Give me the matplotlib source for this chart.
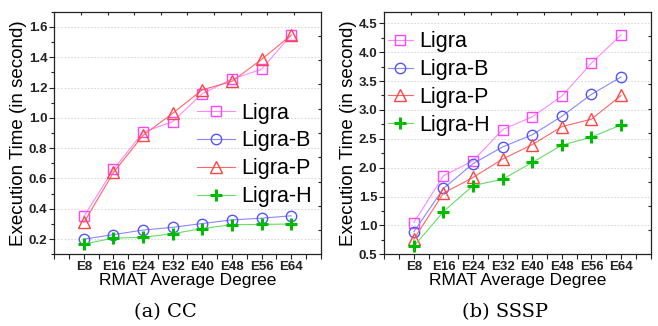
import matplotlib.pyplot as plt
import numpy as np

plt.rcParams['font.family'] = ['Liberation Sans', 'DejaVu Sans']

degrees = ['E8', 'E16', 'E24', 'E32', 'E40', 'E48', 'E56', 'E64']
series = ['Ligra', 'Ligra-B', 'Ligra-P', 'Ligra-H']

# CC run times (s)
cc_ligra = [0.35, 0.66, 0.905, 0.975, 1.16, 1.255, 1.32, 1.545]
cc_ligra_b = [0.20, 0.23, 0.26, 0.278, 0.303, 0.327, 0.338, 0.354]
cc_ligra_p = [0.31, 0.64, 0.885, 1.03, 1.185, 1.24, 1.385, 1.545]
cc_ligra_h = [0.168, 0.207, 0.212, 0.236, 0.27, 0.295, 0.297, 0.30]

# SSSP run times (s)
sssp_ligra = [1.05, 1.86, 2.12, 2.66, 2.88, 3.24, 3.81, 4.30]
sssp_ligra_b = [0.89, 1.64, 2.07, 2.36, 2.57, 2.89, 3.27, 3.57]
sssp_ligra_p = [0.76, 1.56, 1.83, 2.15, 2.40, 2.71, 2.84, 3.25]
sssp_ligra_h = [0.64, 1.24, 1.69, 1.80, 2.09, 2.39, 2.53, 2.74]

styles = [
    dict(marker='s', color='#ff88ff', mec='#ff44ff', mfc='none', ms=7, mew=1.0),
    dict(marker='o', color='#8888ff', mec='#5555ff', mfc='none', ms=7.5, mew=1.0),
    dict(marker='^', color='#ff6666', mec='#ff4444', mfc='none', ms=8.5, mew=1.0),
    dict(marker='+', color='#66dd66', mec='#00bb00', mfc='#00bb00', ms=9, mew=2.2),
]

fig = plt.figure(figsize=(6.58, 3.26), dpi=100)


def panel(rect, data, ylim, yticks, yminor, caption, cap_x, leg_anchor, hlen):
    ax = fig.add_axes(rect)
    x = np.arange(len(degrees))
    for name, vals, st in zip(series, data, styles):
        ax.plot(x, vals, '-', lw=0.8, label=name, zorder=4,
                marker=st['marker'], color=st['color'], mec=st['mec'],
                mfc=st['mfc'], ms=st['ms'], mew=st['mew'])
    ax.set_xlim(-1, 8)
    ax.set_ylim(*ylim)
    ax.set_xticks(x)
    ax.set_xticklabels(degrees)
    ax.set_xticks(np.arange(-1, 8.01, 0.5), minor=True)
    ax.set_yticks(yticks)
    ax.set_yticks(yminor, minor=True)
    ax.yaxis.grid(True, ls=(0, (2, 2)), color='#d0d0d0', lw=0.6)
    ax.set_axisbelow(True)
    for lab in ax.get_xticklabels() + ax.get_yticklabels():
        lab.set_fontweight('bold')
        lab.set_fontsize(9.5)
    ax.tick_params(which='major', direction='out', length=3.5, width=0.8, pad=1.5,
                   colors='#222222')
    ax.tick_params(which='minor', direction='out', length=2.2, width=0.8, colors='#222222')
    ax.tick_params(axis='x', which='minor', length=3.5)
    for s in ax.spines.values():
        s.set_linewidth(0.9)
        s.set_color('#222222')
    ax.set_xlabel('RMAT Average Degree', fontsize=12.5, labelpad=0)
    ax.set_ylabel('Execution Time (in second)', fontsize=13.5, labelpad=1)
    leg = ax.legend(loc='center left', bbox_to_anchor=leg_anchor, frameon=False,
                    fontsize=15.5, handlelength=hlen, handletextpad=0.3,
                    labelspacing=0.32, borderpad=0, borderaxespad=0, numpoints=1)
    leg.set_zorder(6)

    # ticks on the top and right frame
    over = fig.add_axes(rect, frameon=False)
    over.set_xlim(0, 1)
    over.set_ylim(0, 1)
    over.set_xticks(np.linspace(0.1, 0.9, 9))
    over.set_yticks(np.linspace(0.1, 0.9, 9))
    over.tick_params(direction='in', length=2.2, width=0.8, colors='#222222',
                     top=True, right=True, bottom=False, left=False,
                     labeltop=False, labelright=False, labelbottom=False, labelleft=False)
    over.patch.set_visible(False)

    fig.text(cap_x, 0.043, caption, ha='center', va='center', fontsize=14,
             family='DejaVu Serif')
    return ax


panel([0.0825, 0.2199, 0.4049, 0.7442],
      [cc_ligra, cc_ligra_b, cc_ligra_p, cc_ligra_h],
      (0.1, 1.7), np.arange(0.2, 1.61, 0.2), np.arange(0.1, 1.71, 0.1),
      '(a) CC', 165 / 658, (0.536, 0.41), 1.75)

panel([0.584, 0.2199, 0.4049, 0.7442],
      [sssp_ligra, sssp_ligra_b, sssp_ligra_p, sssp_ligra_h],
      (0.5, 4.7), np.arange(0.5, 4.51, 0.5), np.arange(0.5, 4.71, 0.25),
      '(b) SSSP', 505 / 658, (0.014, 0.704), 1.15)

fig.savefig('out.png', dpi=100)
